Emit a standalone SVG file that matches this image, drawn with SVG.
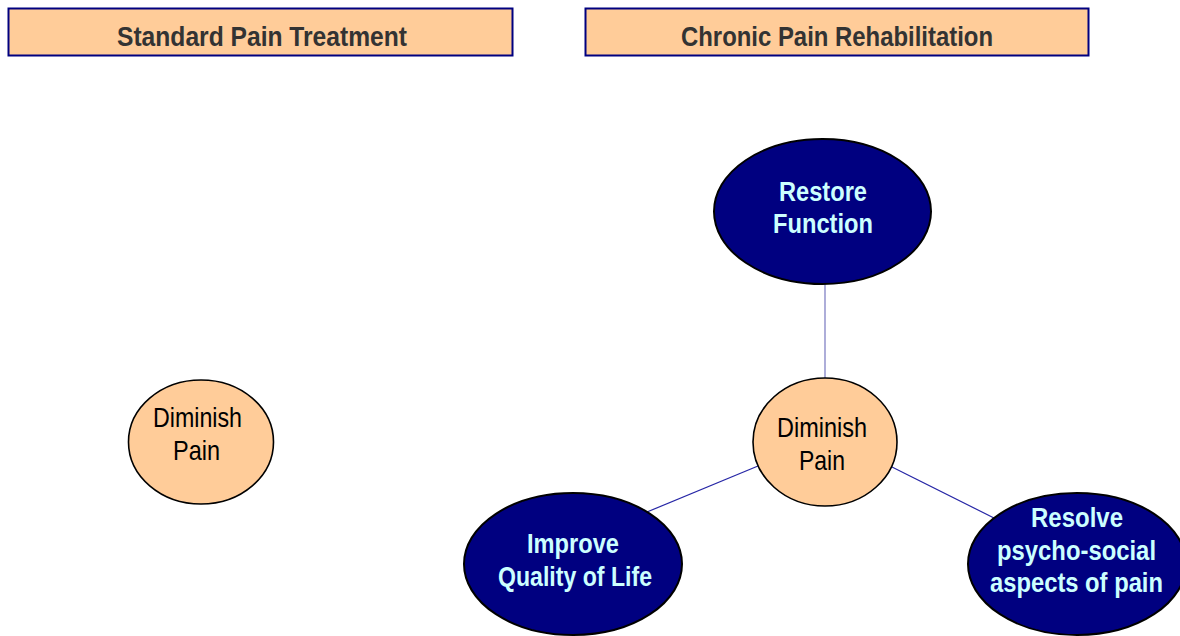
<svg xmlns="http://www.w3.org/2000/svg" width="1180" height="636" viewBox="0 0 1180 636">
<style>
.hdr{fill:#FFCC99;stroke:#000080;stroke-width:2}
.hdrt{font-family:"Liberation Sans",Arial,sans-serif;font-weight:bold;font-size:28px;fill:#333333;text-anchor:middle}
.peach{fill:#FFCC99;stroke:#000000;stroke-width:1.6}
.navy{fill:#000080;stroke:#000000;stroke-width:2}
.pt{font-family:"Liberation Sans",Arial,sans-serif;font-size:28px;fill:#000000;text-anchor:middle}
.nt{font-family:"Liberation Sans",Arial,sans-serif;font-weight:bold;font-size:27px;fill:#CCFFFF;text-anchor:middle}
.conn{stroke:#2626A6;stroke-width:1.2;fill:none}
</style>
<rect width="1180" height="636" fill="#FFFFFF"/>
<g id="connectors">
<line class="conn" x1="825" y1="284" x2="825" y2="378" style="stroke:#7777C0"/>
<line class="conn" x1="647" y1="512" x2="758" y2="466"/>
<line class="conn" x1="892" y1="467" x2="994" y2="518"/>
</g>
<g id="header-standard">
<rect class="hdr" x="8.5" y="8.5" width="504" height="47"/>
<text class="hdrt" x="262" y="46" textLength="290" lengthAdjust="spacingAndGlyphs">Standard Pain  Treatment</text>
</g>
<g id="header-chronic">
<rect class="hdr" x="585.5" y="8.5" width="503" height="47"/>
<text class="hdrt" x="837" y="46" textLength="312" lengthAdjust="spacingAndGlyphs">Chronic Pain Rehabilitation</text>
</g>
<g id="node-diminish-left">
<ellipse class="peach" cx="201" cy="442" rx="72.5" ry="62"/>
<text class="pt" x="197.5" y="427" textLength="89" lengthAdjust="spacingAndGlyphs">Diminish</text>
<text class="pt" x="196.5" y="460" textLength="47" lengthAdjust="spacingAndGlyphs">Pain</text>
</g>
<g id="node-restore">
<ellipse class="navy" cx="822.5" cy="211.5" rx="108.5" ry="72.5"/>
<text class="nt" x="823" y="201" textLength="88" lengthAdjust="spacingAndGlyphs">Restore</text>
<text class="nt" x="823" y="233" textLength="100" lengthAdjust="spacingAndGlyphs">Function</text>
</g>
<g id="node-diminish-center">
<ellipse class="peach" cx="825" cy="442" rx="72" ry="64"/>
<text class="pt" x="822" y="437" textLength="90" lengthAdjust="spacingAndGlyphs">Diminish</text>
<text class="pt" x="822" y="470" textLength="46" lengthAdjust="spacingAndGlyphs">Pain</text>
</g>
<g id="node-improve">
<ellipse class="navy" cx="573" cy="564" rx="109" ry="71"/>
<text class="nt" x="573" y="553" textLength="92" lengthAdjust="spacingAndGlyphs">Improve</text>
<text class="nt" x="575" y="586" textLength="154" lengthAdjust="spacingAndGlyphs">Quality of Life</text>
</g>
<g id="node-resolve">
<ellipse class="navy" cx="1077" cy="564" rx="109" ry="71"/>
<text class="nt" x="1077" y="527" textLength="92" lengthAdjust="spacingAndGlyphs">Resolve</text>
<text class="nt" x="1076.5" y="560" textLength="159" lengthAdjust="spacingAndGlyphs">psycho-social</text>
<text class="nt" transform="translate(1076.5,592) scale(0.88,1)" x="0" y="0">aspects of pain</text>
</g>
</svg>
